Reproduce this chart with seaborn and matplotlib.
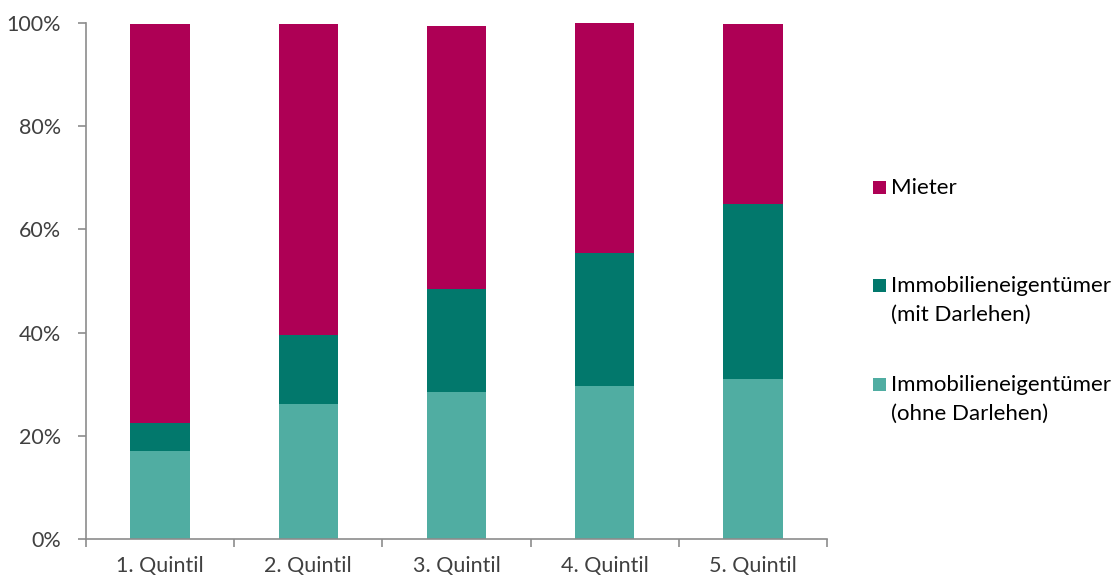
import matplotlib
matplotlib.use("Agg")
import matplotlib.pyplot as plt
import seaborn as sns
import numpy as np
import pandas as pd
from matplotlib.patches import Rectangle
from matplotlib.ticker import FuncFormatter, FixedLocator

categories = ["1. Quintil", "2. Quintil", "3. Quintil", "4. Quintil", "5. Quintil"]
ohne_darlehen = [17.0, 26.1, 28.5, 29.7, 31.0]
mit_darlehen = [5.4, 13.4, 19.9, 25.7, 33.9]
mieter = [77.4, 60.3, 51.0, 44.6, 34.9]

series_labels = ["Mieter", "Immobilieneigentümer\n(mit Darlehen)", "Immobilieneigentümer\n(ohne Darlehen)"]
colors = ["#AE0055", "#02786C", "#50ADA2"]

sns.set_theme(style="white")
plt.rcParams['font.family'] = ['Lato', 'DejaVu Sans']

W, H = 1119, 578
fig = plt.figure(figsize=(W / 100, H / 100), dpi=100)
ax = fig.add_axes([86 / W, 39 / H, (827 - 86) / W, (539 - 23) / H])

o = np.array(ohne_darlehen)
m = np.array(mit_darlehen)
r = np.array(mieter)
df = pd.DataFrame({"cat": categories, "total": o + m + r, "owners": o + m, "ohne": o})

for col, c in zip(["total", "owners", "ohne"], colors):
    sns.barplot(data=df, x="cat", y=col, color=c, width=0.4, ax=ax,
                saturation=1, linewidth=0, errorbar=None)

ax.set_ylim(0, 100)
ax.set_xlim(-0.5, 4.5)
ax.set_yticks([0, 20, 40, 60, 80, 100])
ax.yaxis.set_major_formatter(FuncFormatter(lambda v, p: f"{int(v)}%"))
ax.set_xlabel("")
ax.set_ylabel("")

ax.set_xticks(np.arange(len(categories)))
ax.set_xticklabels(categories)
ax.xaxis.set_minor_locator(FixedLocator(np.arange(-0.5, len(categories), 1.0)))
ax.tick_params(axis="x", which="major", length=0, pad=12, labelsize=15.5, labelcolor="#404040")
ax.tick_params(axis="x", which="minor", length=6, width=1.2, color="#8c8c8c", direction="out", bottom=True)
ax.tick_params(axis="y", length=6, width=1.2, color="#8c8c8c", direction="out", left=True,
               labelsize=15.5, labelcolor="#404040", pad=12)

for s in ["top", "right"]:
    ax.spines[s].set_visible(False)
for s in ["left", "bottom"]:
    ax.spines[s].set_color("#8c8c8c")
    ax.spines[s].set_linewidth(1.2)

# Legend (manual, Excel-like placement)
square_centers = [187, 285, 384]
line_gap = 29
for lab, c, yc in zip(series_labels, colors, square_centers):
    fig.patches.append(Rectangle(((873) / W, 1 - (yc + 6.5) / H), 13 / W, 13 / H,
                                 transform=fig.transFigure, facecolor=c, edgecolor="none"))
    for i, line in enumerate(lab.split("\n")):
        fig.text(891 / W, 1 - (yc + 7 + i * line_gap) / H, line, fontsize=16, color="#000000",
                 ha="left", va="baseline")

fig.savefig("out.png", dpi=100)
